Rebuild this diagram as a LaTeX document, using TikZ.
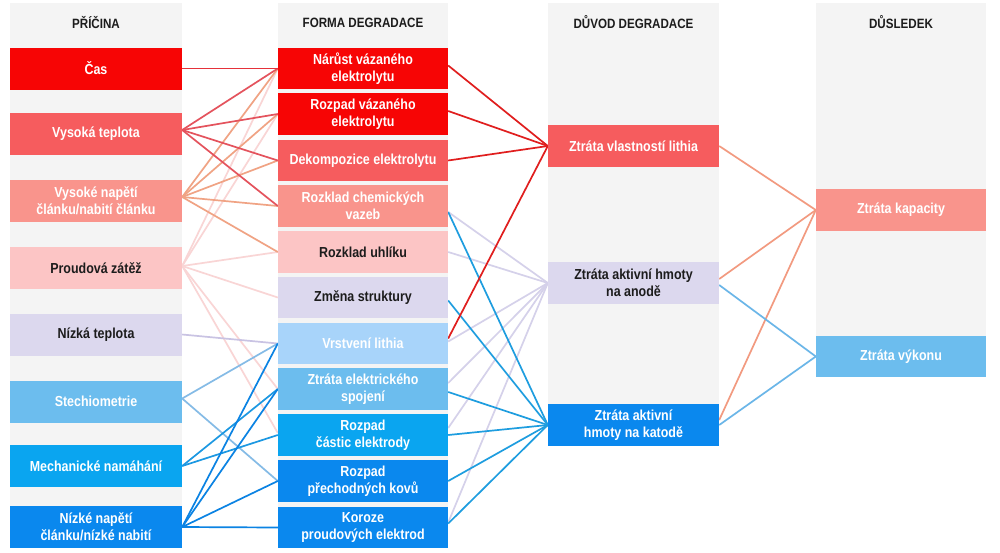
\documentclass[tikz,border=0pt]{standalone}
\usepackage{fontspec}
\setmainfont{Liberation Sans}[FakeStretch=0.86]
\definecolor{bg}{HTML}{F4F4F4}
\definecolor{txt}{HTML}{1C1C1C}
\definecolor{cRa}{HTML}{F70505}
\definecolor{cRb}{HTML}{F65C5E}
\definecolor{cRc}{HTML}{F9948C}
\definecolor{cRd}{HTML}{FCC5C5}
\definecolor{cLav}{HTML}{DCD8EE}
\definecolor{cBd}{HTML}{A8D4FA}
\definecolor{cBc}{HTML}{6CBDEE}
\definecolor{cBb}{HTML}{0AA5F0}
\definecolor{cBa}{HTML}{0A88EE}
\definecolor{lCas}{HTML}{E5323A}
\definecolor{lVT}{HTML}{E4535D}
\definecolor{lVN}{HTML}{F0A384}
\definecolor{lPr}{HTML}{F9D5D5}
\definecolor{lNT}{HTML}{C9C3E3}
\definecolor{lSt}{HTML}{85BBE6}
\definecolor{lMe}{HTML}{1C98E2}
\definecolor{lNN}{HTML}{0B83E3}
\definecolor{lRed}{HTML}{E01E1E}
\definecolor{lLav}{HTML}{D5D1EA}
\definecolor{lBlu}{HTML}{1E9DDF}
\definecolor{lSal}{HTML}{F29A80}
\definecolor{lLb}{HTML}{6BB6E8}
\pgfdeclarelayer{bglayer}
\pgfsetlayers{bglayer,main}
\tikzset{
  bx/.style={minimum width=170pt, minimum height=41.5pt, inner sep=0pt, align=center,
    font=\fontsize{14.5}{17}\selectfont\bfseries, text=white},
  wide/.style={minimum width=172pt, minimum height=42pt},
  dk/.style={text=txt},
  hd/.style={font=\fontsize{13.5}{15}\selectfont\bfseries, text=txt, inner sep=0pt},
  ln/.style={line width=1.7pt},
}
\begin{document}
\begin{tikzpicture}[x=1pt,y=-1pt]
\useasboundingbox (0,0) rectangle (1000,552);
% headers
\node[hd] (h1) at (96,22.5) {PŘÍČINA};
\node[hd] (h2) at (363,22.5) {FORMA DEGRADACE};
\node[hd] (h3) at (633.5,22.5) {DŮVOD DEGRADACE};
\node[hd] (h4) at (901,22.5) {DŮSLEDEK};
% column 1
\node[bx, wide, fill=cRa] (cas) at (96,68.5) {Čas};
\node[bx, wide, fill=cRb] (vt) at (96,134) {Vysoká teplota};
\node[bx, wide, fill=cRc] (vn) at (96,201) {Vysoké napětí\\článku/nabití článku};
\node[bx, wide, fill=cRd, dk] (prou) at (96,268) {Proudová zátěž};
\node[bx, wide, fill=cLav, dk] (nizka) at (96,334.5) {Nízká teplota};
\node[bx, wide, fill=cBc] (stech) at (96,401.5) {Stechiometrie};
\node[bx, wide, fill=cBb] (mech) at (96,466) {Mechanické namáhání};
\node[bx, wide, fill=cBa] (nn) at (96,527) {Nízké napětí\\článku/nízké nabití};
% column 2
\node[bx, fill=cRa] (narust) at (363,68.5) {Nárůst vázaného\\elektrolytu};
\node[bx, fill=cRa] (rozpadv) at (363,114) {Rozpad vázaného\\elektrolytu};
\node[bx, fill=cRb] (dekomp) at (363,160.5) {Dekompozice elektrolytu};
\node[bx, fill=cRc] (chem) at (363,206) {Rozklad chemických\\vazeb};
\node[bx, fill=cRd, dk] (uhlik) at (363,252) {Rozklad uhlíku};
\node[bx, fill=cLav, dk] (zmena) at (363,297.5) {Změna struktury};
\node[bx, fill=cBd] (vrstv) at (363,343.5) {Vrstvení lithia};
\node[bx, fill=cBc] (spoj) at (363,389) {Ztráta elektrického\\spojení};
\node[bx, fill=cBb] (castic) at (363,435) {Rozpad\\částic elektrody};
\node[bx, fill=cBa] (prech) at (363,481) {Rozpad\\přechodných kovů};
\node[bx, fill=cBa] (koroze) at (363,527.5) {Koroze\\proudových elektrod};
% column 3
\node[bx, minimum width=171pt, fill=cRb] (vlast) at (633.5,146) {Ztráta vlastností lithia};
\node[bx, minimum width=171pt, fill=cLav, dk] (anode) at (633.5,283) {Ztráta aktivní hmoty\\na anodě};
\node[bx, minimum width=171pt, fill=cBa] (katode) at (633.5,425) {Ztráta aktivní\\hmoty na katodě};
% column 4
\node[bx, fill=cRc] (kapac) at (901,210) {Ztráta kapacity};
\node[bx, fill=cBc] (vykon) at (901,356.5) {Ztráta výkonu};
\begin{pgfonlayer}{bglayer}
\fill[white] (0,0) rectangle (1000,552);
\fill[bg] (10,3) rectangle (182,548);
\fill[bg] (278,3) rectangle (448,548);
\fill[bg] (548,3) rectangle (719,446);
\fill[bg] (816,3) rectangle (986,377);
% column 1 -> column 2
\draw[ln, lPr] ([yshift=2pt]prou.east) -- (narust.west);
\draw[ln, lPr] ([yshift=2pt]prou.east) -- (rozpadv.west);
\draw[ln, lPr] ([yshift=2pt]prou.east) -- (uhlik.west);
\draw[ln, lPr] ([yshift=2pt]prou.east) -- (zmena.west);
\draw[ln, lPr] ([yshift=2pt]prou.east) -- (spoj.west);
\draw[ln, lPr] ([yshift=2pt]prou.east) -- ([yshift=2pt]castic.west);
\draw[ln, lNT] (nizka.east) -- (vrstv.west);
\draw[ln, lVN] ([yshift=4pt]vn.east) -- (narust.west);
\draw[ln, lVN] ([yshift=4pt]vn.east) -- (rozpadv.west);
\draw[ln, lVN] ([yshift=4pt]vn.east) -- (dekomp.west);
\draw[ln, lVN] ([yshift=4pt]vn.east) -- (chem.west);
\draw[ln, lVN] ([yshift=4pt]vn.east) -- (uhlik.west);
\draw[ln, lVT] ([yshift=4pt]vt.east) -- (narust.west);
\draw[ln, lVT] ([yshift=4pt]vt.east) -- (rozpadv.west);
\draw[ln, lVT] ([yshift=4pt]vt.east) -- (dekomp.west);
\draw[ln, lVT] ([yshift=4pt]vt.east) -- (chem.west);
\draw[ln, lCas] (cas.east) -- (narust.west);
\draw[ln, lSt] ([yshift=3pt]stech.east) -- (vrstv.west);
\draw[ln, lSt] ([yshift=3pt]stech.east) -- (prech.west);
\draw[ln, lMe] (mech.east) -- (spoj.west);
\draw[ln, lMe] (mech.east) -- (castic.west);
\draw[ln, lNN] (nn.east) -- (vrstv.west);
\draw[ln, lNN] (nn.east) -- (spoj.west);
\draw[ln, lNN] (nn.east) -- (prech.west);
\draw[ln, lNN] (nn.east) -- (koroze.west);
% column 2 -> column 3
\draw[ln, lLav] ([yshift=-6pt]chem.east) -- (anode.west);
\draw[ln, lLav] (uhlik.east) -- (anode.west);
\draw[ln, lLav] ([yshift=2pt]vrstv.east) -- (anode.west);
\draw[ln, lLav] ([yshift=6pt]spoj.east) -- (anode.west);
\draw[ln, lLav] ([yshift=7pt]castic.east) -- (anode.west);
\draw[ln, lLav] ([yshift=5pt]koroze.east) -- (anode.west);
\draw[ln, lBlu] ([yshift=-6pt]chem.east) -- (katode.west);
\draw[ln, lBlu] ([yshift=-3pt]zmena.east) -- (katode.west);
\draw[ln, lBlu] ([yshift=-3pt]spoj.east) -- (katode.west);
\draw[ln, lBlu] (castic.east) -- (katode.west);
\draw[ln, lBlu] (prech.east) -- (katode.west);
\draw[ln, lBlu] ([yshift=4pt]koroze.east) -- (katode.west);
\draw[ln, lRed] ([yshift=3pt]narust.east) -- (vlast.west);
\draw[ln, lRed] ([yshift=3pt]rozpadv.east) -- (vlast.west);
\draw[ln, lRed] (dekomp.east) -- (vlast.west);
\draw[ln, lRed] ([yshift=5pt]vrstv.east) -- (vlast.west);
% column 3 -> column 4
\draw[ln, lSal] (vlast.east) -- (kapac.west);
\draw[ln, lSal] ([yshift=4pt]anode.east) -- (kapac.west);
\draw[ln, lSal] ([yshift=5pt]katode.east) -- (kapac.west);
\draw[ln, lLb] ([yshift=-2pt]anode.east) -- (vykon.west);
\draw[ln, lLb] (katode.east) -- (vykon.west);
\end{pgfonlayer}
\end{tikzpicture}
\end{document}
